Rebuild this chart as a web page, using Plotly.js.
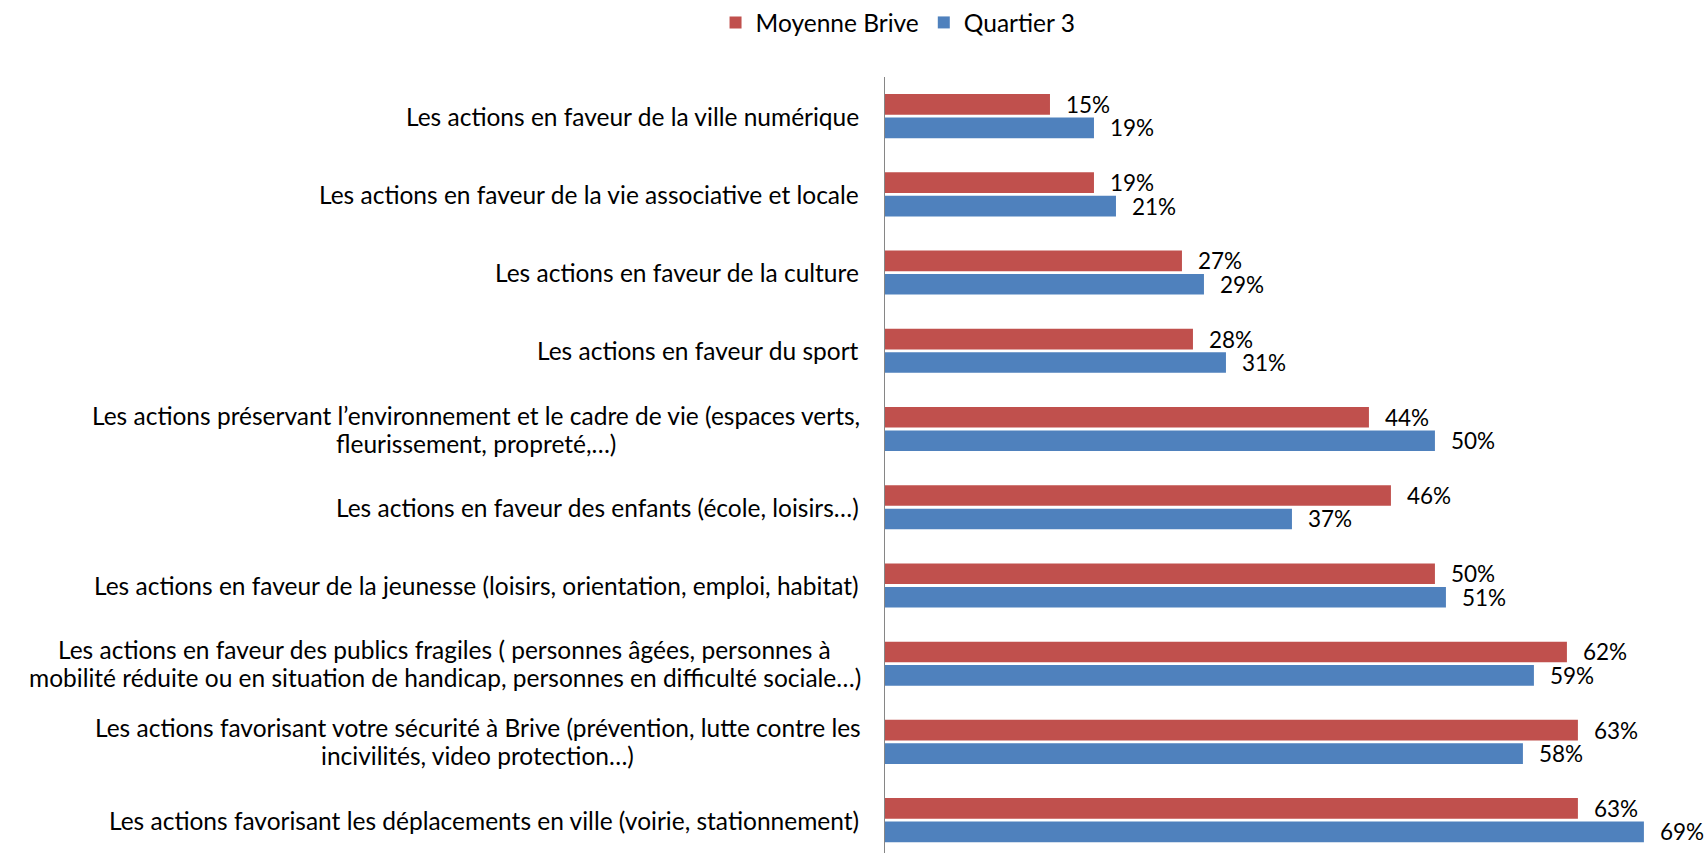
<!DOCTYPE html>
<html>
<head>
<meta charset="utf-8">
<script src="https://cdn.plot.ly/plotly-3.0.1.min.js"></script>
<style>html,body{margin:0;padding:0;background:#fff;}#chart{width:1708px;height:853px;}</style>
</head>
<body>
<div id="chart"></div>
<script>
const categories = [
  "Les actions en faveur de la ville numérique",
  "Les actions en faveur de la vie associative et locale",
  "Les actions en faveur de la culture",
  "Les actions en faveur du sport",
  "Les actions préservant l’environnement et le cadre de vie (espaces verts,<br>fleurissement, propreté,…)",
  "Les actions en faveur des enfants (école, loisirs…)",
  "Les actions en faveur de la jeunesse (loisirs, orientation, emploi, habitat)",
  "Les actions en faveur des publics fragiles ( personnes âgées, personnes à<br>mobilité réduite ou en situation de handicap, personnes en difficulté sociale…)",
  "Les actions favorisant votre sécurité à Brive (prévention, lutte contre les<br>incivilités, video protection…)",
  "Les actions favorisant les déplacements en ville (voirie, stationnement)"
];
const moyenneBrive = [15, 19, 27, 28, 44, 46, 50, 62, 63, 63];
const quartier3 = [19, 21, 29, 31, 50, 37, 51, 59, 58, 69];
const seriesNames = ["Moyenne Brive", "Quartier 3"];
const colors = ["#C0504D", "#4F81BD"];

const FONT = "Lato, 'Liberation Sans', sans-serif";
const FS = 24.5;
const FS_VAL = 22.5;
const LINE_H = 28;
const LABEL_GAP = 24;
const idx = categories.map((c, i) => i);

const ctx = document.createElement("canvas").getContext("2d");
ctx.font = FS + "px Lato, 'Liberation Sans', sans-serif";

const traces = [moyenneBrive, quartier3].map((vals, k) => ({
  type: "bar",
  orientation: "h",
  name: seriesNames[k],
  y: idx,
  x: vals,
  marker: {color: colors[k]},
  hoverinfo: "x+name"
}));

const annotations = [];
categories.forEach((c, i) => {
  const lines = c.split("<br>");
  if (lines.length === 1) {
    annotations.push({
      xref: "paper", yref: "y", x: 0, y: i, xanchor: "right", yanchor: "middle",
      xshift: -LABEL_GAP, text: c, showarrow: false,
      font: {family: FONT, size: FS, color: "#000"}
    });
  } else {
    const w = Math.max(...lines.map(l => ctx.measureText(l).width));
    lines.forEach((l, j) => {
      annotations.push({
        xref: "paper", yref: "y", x: 0, y: i, xanchor: "center", yanchor: "middle",
        xshift: -LABEL_GAP - w / 2,
        yshift: ((lines.length - 1) / 2 - j) * LINE_H,
        text: l, showarrow: false,
        font: {family: FONT, size: FS, color: "#000"}
      });
    });
  }
});
[moyenneBrive, quartier3].forEach((vals, k) => {
  vals.forEach((v, i) => {
    annotations.push({
      xref: "x", yref: "y", x: v, y: i + (k === 0 ? -0.15 : 0.15),
      xanchor: "left", yanchor: "middle", xshift: 14,
      text: v + "%", showarrow: false,
      font: {family: FONT, size: FS_VAL, color: "#000"}
    });
  });
});

const layout = {
  width: 1708, height: 853,
  margin: {l: 885, r: 8, t: 76, b: 0, pad: 0},
  paper_bgcolor: "#fff", plot_bgcolor: "#fff",
  barmode: "group", bargap: 0.4, bargroupgap: 0.12,
  font: {family: FONT, size: FS, color: "#000"},
  showlegend: true,
  legend: {orientation: "h", x: 0.016, xanchor: "center", y: 1.07, yanchor: "middle",
           font: {family: FONT, size: FS, color: "#000"}, itemwidth: 30},
  xaxis: {range: [0, 74.1], showgrid: false, zeroline: false, showticklabels: false, showline: false, fixedrange: true},
  yaxis: {type: "linear", range: [9.42, -0.5], showgrid: false, zeroline: false, showticklabels: false,
          showline: true, linecolor: "#868686", linewidth: 1.5, ticks: "", fixedrange: true},
  annotations: annotations
};

Plotly.newPlot("chart", traces, layout, {displayModeBar: false, staticPlot: true});
</script>
</body>
</html>
